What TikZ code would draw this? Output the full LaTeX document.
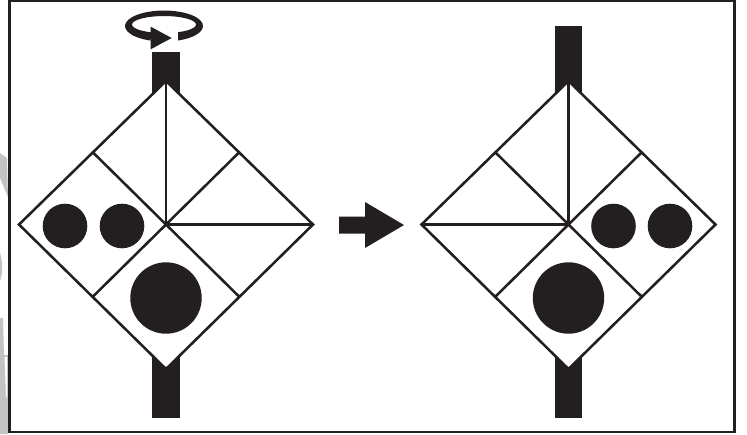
\documentclass[tikz,border=0pt]{standalone}
\usepackage{tikz}
\definecolor{inkblack}{RGB}{35,31,32}
\definecolor{ghostgray}{RGB}{195,195,195}
\tikzset{
    cell/.style={draw=inkblack, line width=1.45pt, line join=miter},
    solid ink/.style={fill=inkblack, draw=none}
}
% Un rotor: eixo inferior, losango dividido e as esferas ficam por conta de quem chama
\newcommand{\rotorbody}[2]{
    \fill[solid ink] (#1-14,#2) rectangle (#1+13.5,418);
    \filldraw[cell, fill=white] (#1,81) -- (#1+147,224.5) -- (#1,369) -- (#1-147,224.5) -- cycle;
    \draw[cell] (#1,81) -- (#1,224.5);
    \draw[cell] (#1-73.5,152) -- (#1+73.5,297);
    \draw[cell] (#1+73.5,152) -- (#1-73.5,297);
}
\begin{document}
\begin{tikzpicture}[x=0.02cm, y=-0.02cm]
    \useasboundingbox (0,0) rectangle (747,434);

    % Restos cinza fora da moldura
    \fill[ghostgray] (0,153) -- (7,158) -- (8,197) -- (0,178) -- cycle;
    \fill[ghostgray] (0,253) .. controls (3,262) and (3,272) .. (0,281) -- cycle;
    \fill[ghostgray] (0,318) -- (3,318) -- (4,355) -- (8,355) -- (8,434) -- (0,434) -- cycle;
    \fill[white] (4.5,357) -- (7,357) -- (7,397) -- (6,397) -- cycle;

    % Moldura
    \draw[inkblack, line width=1.4pt] (9.5,1) rectangle (734.3,432);

    % Rotor da esquerda
    \rotorbody{166}{52}
    \draw[cell] (166,224.5) -- (313,224.5);
    \fill[solid ink] (65,226) circle (22.3);
    \fill[solid ink] (122,226) circle (22.3);
    \fill[solid ink] (166,298) circle (35.7);

    % Seta de rotacao
    \fill[solid ink] (178,40.5) arc[start angle=69, end angle=-250, x radius=39, y radius=15.5]
        -- (151,32.3) arc[start angle=-246, end angle=64, x radius=32, y radius=8.5] -- cycle;
    \fill[solid ink] (150.7,26.7) -- (171.7,38) -- (150.7,49.3) -- cycle;

    % Seta entre os dois
    \fill[solid ink] (339,216.5) -- (365,216.5) -- (365,202) -- (404,225) -- (365,248) -- (365,233.5) -- (339,233.5) -- cycle;

    % Rotor da direita
    \rotorbody{568.5}{26}
    \draw[cell] (568.5,224.5) -- (421.5,224.5);
    \fill[solid ink] (613.5,226) circle (22.3);
    \fill[solid ink] (670,226) circle (22.3);
    \fill[solid ink] (568.5,298) circle (35.7);
\end{tikzpicture}
\end{document}
